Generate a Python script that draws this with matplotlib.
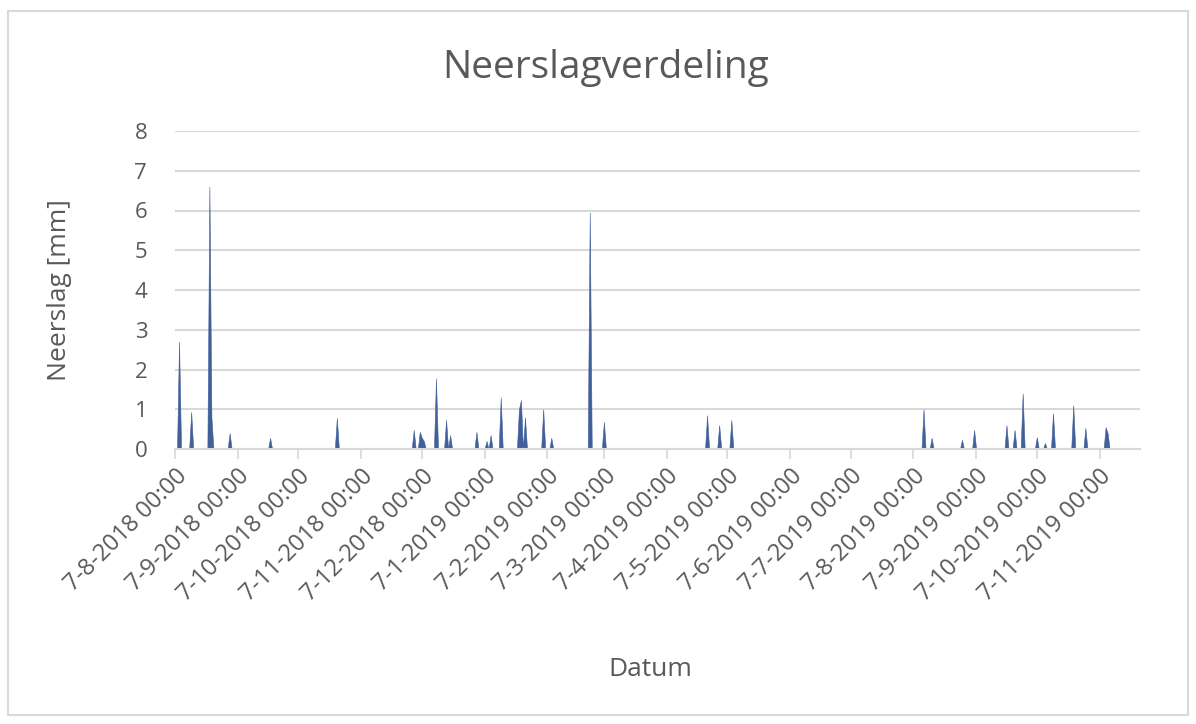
import numpy as np
import pandas as pd
import matplotlib
matplotlib.use('Agg')
import matplotlib.pyplot as plt
from matplotlib.patches import Rectangle

# Rain events (date, mm); all other days are dry
rain_dates = [
    '2018-08-09', '2018-08-15', '2018-08-24', '2018-08-25', '2018-09-03',
    '2018-09-23', '2018-10-26', '2018-12-03', '2018-12-06', '2018-12-07',
    '2018-12-08', '2018-12-14', '2018-12-19', '2018-12-21', '2019-01-03',
    '2019-01-08', '2019-01-10', '2019-01-15', '2019-01-24', '2019-01-25',
    '2019-01-27', '2019-02-05', '2019-02-09', '2019-02-28', '2019-03-07',
    '2019-04-27', '2019-05-03', '2019-05-09', '2019-08-12', '2019-08-16',
    '2019-08-31', '2019-09-06', '2019-09-22', '2019-09-26', '2019-09-30',
    '2019-10-07', '2019-10-11', '2019-10-15', '2019-10-25', '2019-10-31',
    '2019-11-10', '2019-11-11',
]
rain_mm = [
    2.7, 0.93, 6.6, 0.8, 0.4,
    0.28, 0.78, 0.48, 0.43, 0.28,
    0.2, 1.78, 0.73, 0.35, 0.43,
    0.2, 0.35, 1.3, 1.0, 1.23,
    0.8, 1.0, 0.28, 5.95, 0.68,
    0.85, 0.6, 0.73, 1.0, 0.28,
    0.23, 0.48, 0.6, 0.48, 1.4,
    0.3, 0.15, 0.9, 1.1, 0.53,
    0.55, 0.4,
]
start_date = '2018-08-07'
end_date = '2019-11-27'

tick_dates = [
    '2018-08-07', '2018-09-07', '2018-10-07', '2018-11-07', '2018-12-07',
    '2019-01-07', '2019-02-07', '2019-03-07', '2019-04-07', '2019-05-07',
    '2019-06-07', '2019-07-07', '2019-08-07', '2019-09-07', '2019-10-07',
    '2019-11-07',
]
tick_labels = [
    '7-8-2018 00:00', '7-9-2018 00:00', '7-10-2018 00:00', '7-11-2018 00:00',
    '7-12-2018 00:00', '7-1-2019 00:00', '7-2-2019 00:00', '7-3-2019 00:00',
    '7-4-2019 00:00', '7-5-2019 00:00', '7-6-2019 00:00', '7-7-2019 00:00',
    '7-8-2019 00:00', '7-9-2019 00:00', '7-10-2019 00:00', '7-11-2019 00:00',
]

days = pd.date_range(start_date, end_date, freq='D')
series = pd.Series(0.0, index=days)
series.loc[pd.to_datetime(rain_dates)] = rain_mm

txt = '#595959'
plt.rcParams['font.family'] = ['Open Sans', 'DejaVu Sans']

fig = plt.figure(figsize=(11.96, 7.24), dpi=100)
fig.patches.append(Rectangle((8 / 1196, 9 / 724), 1180 / 1196, 704 / 724,
                             transform=fig.transFigure, fill=False,
                             edgecolor='#D9D9D9', linewidth=1.5))
ax = fig.add_axes([175 / 1196, 1 - 449 / 724, 965 / 1196, 318 / 724])

ax.fill_between(series.index, 0, series.values, color='#41609A', linewidth=0.4,
                edgecolor='#41609A')

ax.set_xlim(series.index[0], series.index[-1])
ax.set_ylim(0, 8)
ax.set_yticks(range(0, 9))
ax.grid(axis='y', color='#D9D9D9', linewidth=1.5)
ax.set_axisbelow(True)

ax.set_xticks(pd.to_datetime(tick_dates))
ax.set_xticklabels(tick_labels, rotation=45, ha='right', rotation_mode='anchor')

for s in ['top', 'right', 'left']:
    ax.spines[s].set_visible(False)
ax.spines['bottom'].set_color('#D9D9D9')
ax.spines['bottom'].set_linewidth(1.5)
ax.tick_params(axis='x', colors='#D9D9D9', length=7, width=1.2, labelcolor=txt,
               labelsize=17, pad=4)
ax.tick_params(axis='y', length=0, labelcolor=txt, labelsize=16, pad=20)

ax.set_ylabel('Neerslag [mm]', color=txt, fontsize=19)
ax.yaxis.set_label_coords((72 - 175) / 965, 0.5)
fig.text(650 / 1196, 1 - 670 / 724, 'Datum', color=txt, fontsize=19,
         ha='center', va='center')
fig.text(606 / 1196, 1 - 68 / 724, 'Neerslagverdeling', color=txt, fontsize=28,
         ha='center', va='center')

fig.savefig('out.png', dpi=100, facecolor='white')
